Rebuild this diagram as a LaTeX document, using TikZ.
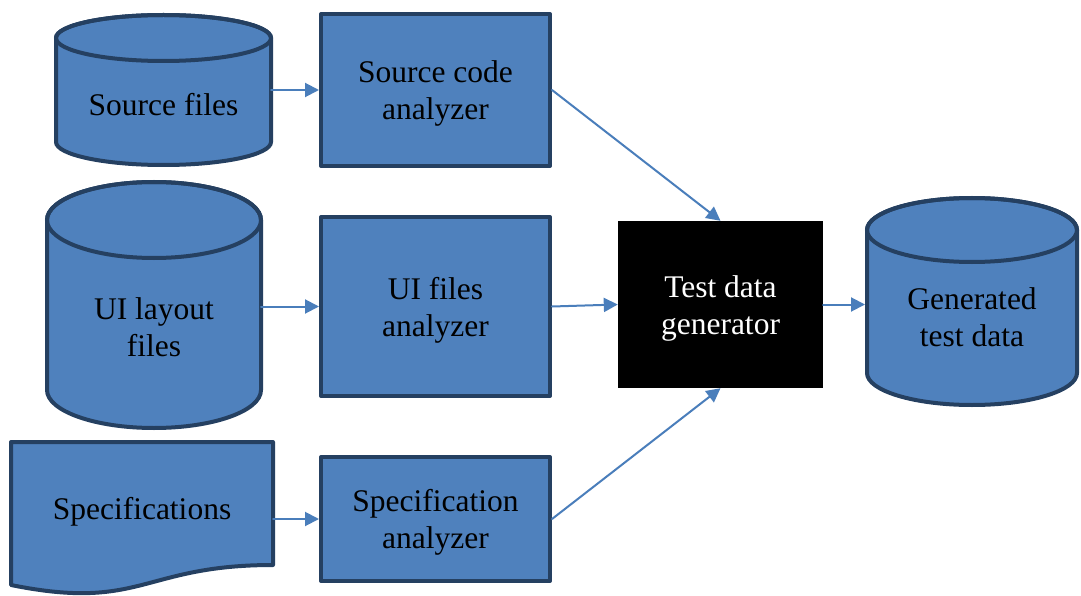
\documentclass[tikz,border=0pt]{standalone}
\usepackage{fontspec}
\setmainfont{Liberation Serif}
\usepackage{tikz}
\usetikzlibrary{arrows.meta,calc,backgrounds}
\definecolor{flowfill}{HTML}{4F81BD}
\definecolor{flowline}{HTML}{254061}
\definecolor{flowarrow}{HTML}{4A7EBB}
% 首行加高，使文字略往下
\newcommand{\tallstrut}{\rule{0pt}{29pt}}
% 圆柱：#1 节点名（主体从顶面中心到底边），#2 x 半径，#3 y 半径
\newcommand{\dbcyl}[3]{%
  \begin{scope}[on background layer]
    \path[draw=flowline,fill=flowfill,line width=4pt]
      (#1.north west)--($(#1.south west)+(0,-#3)$)
      arc[start angle=180,end angle=360,x radius=#2pt,y radius=#3pt]
      --(#1.north east)
      arc[start angle=0,end angle=180,x radius=#2pt,y radius=#3pt]--cycle;
    \draw[flowline,line width=4pt] (#1.north) ellipse[x radius=#2pt,y radius=#3pt];
  \end{scope}}

\begin{document}
\begin{tikzpicture}[x=1pt,y=-1pt,line cap=round,line join=round,
  font=\fontsize{31.5}{37}\selectfont,
  db/.style={rectangle,align=center,inner sep=0pt,outer sep=0pt},
  proc/.style={rectangle,draw=flowline,fill=flowfill,line width=4pt,
    align=center,inner sep=0pt},
  info/.style={align=center,inner sep=0pt},
  flow/.style={draw=flowarrow,line width=2pt,-{Triangle[length=14pt,width=14pt]}}]
\useasboundingbox (0,0) rectangle (1081,596);
\begin{scope}[on background layer]
  \fill[white] (0,0) rectangle (1081,596);
\end{scope}

% 左列：三种输入
\node[db,minimum width=215pt,minimum height=127pt] (srcdb) at (163.5,101.5) {\tallstrut Source files};
\dbcyl{srcdb}{107.5}{23}
\node[db,minimum width=214pt,minimum height=208pt] (uidb) at (154,324) {\tallstrut UI layout\\files};
\dbcyl{uidb}{107}{38}
% 文档形状：底边是一条三次曲线
\draw[draw=flowline,fill=flowfill,line width=4pt]
  (11,442)--(273,442)--(273,565) .. controls (142,565) and (142,611.5) .. (11,585)--cycle;
\node[info,minimum width=262pt] (spec) at (142,512) {Specifications};

% 中列：分析器
\node[proc,minimum width=229pt,minimum height=152pt] (srcana) at (435.5,90) {\tallstrut Source code\\analyzer};
\node[proc,minimum width=229pt,minimum height=179pt] (uiana) at (435.5,306.5) {\tallstrut UI files\\analyzer};
\node[proc,minimum width=229pt,minimum height=124pt] (specana) at (435.5,519) {\tallstrut Specification\\analyzer};

% 右侧：生成器与结果
\node[rectangle,fill=black,text=white,align=center,minimum width=205pt,minimum height=167pt] (gen) at (720.5,304.5) {\tallstrut Test data\\generator};
\node[db,minimum width=210pt,minimum height=175pt] (outdb) at (972,317.5) {Generated\\test data};
\dbcyl{outdb}{105}{32}

\draw[flow] (srcdb.east |- srcana.west)--(srcana.west);
\draw[flow] (uidb.east |- uiana.west)--(uiana.west);
\draw[flow] (spec.east |- specana.west)--(specana.west);
\draw[flow] (srcana.east)--(gen.north);
\draw[flow] (uiana.east)--(gen.west);
\draw[flow] (specana.east)--(gen.south);
\draw[flow,shorten >=2pt] (gen.east)--(gen.east -| outdb.west);
\end{tikzpicture}
\end{document}
